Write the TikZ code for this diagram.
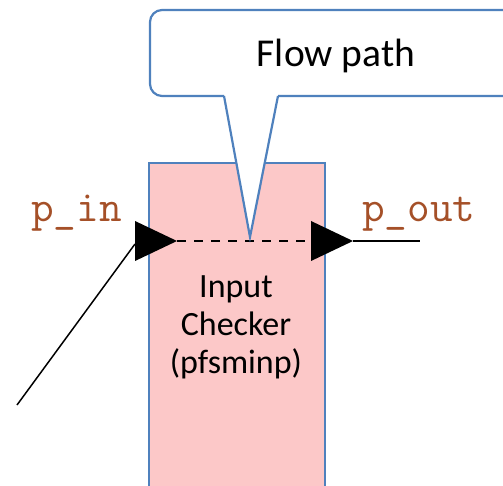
\documentclass[tikz,border=0pt]{standalone}
\usepackage{fontspec}
\setmainfont{Carlito}
\definecolor{boxfill}{RGB}{252,200,200}
\definecolor{boxline}{RGB}{79,129,189}
\definecolor{portcol}{RGB}{165,80,40}
\begin{document}
\begin{tikzpicture}[x=1pt,y=-1pt,
  blockbox/.style={draw=boxline, line width=2.2pt, fill=boxfill, rectangle, inner sep=0pt},
  portlabel/.style={text=portcol, font=\ttfamily\fontsize{44}{44}\selectfont, inner sep=0pt, anchor=base west},
  wire/.style={line width=1.5pt, black},
  headfill/.style={fill=black}]
\useasboundingbox (0,0) rectangle (503,486);
\clip (0,0) rectangle (503,486);
% block
\node[blockbox, minimum width=176pt, minimum height=340pt, anchor=north west] (box) at (148,162) {};
\node[align=center, font=\fontsize{34}{38}\selectfont, inner sep=0pt, anchor=base] (boxtext) at (236,373) {Input\\Checker\\(pfsminp)};
% ports
\node[portlabel] (pin) at (31,222) {p\_in};
\node[portlabel] (pout) at (362,222) {p\_out};
\coordinate (src) at (17,405);
\coordinate (inbase) at (135,241);
\coordinate (intip) at (177,241);
\coordinate (outbase) at (311,241);
\coordinate (outtip) at (353,241);
\coordinate (sink) at (420,241);
\draw[wire] (src) -- ([yshift=-3pt]inbase);
\draw[wire, line width=2pt, dash pattern=on 9pt off 8pt] (intip) -- (outbase);
\draw[wire] (outtip) -- (sink);
\fill[headfill] ([yshift=20pt]inbase) -- (intip) -- ([yshift=-20pt]inbase) -- cycle;
\fill[headfill] ([yshift=20pt]outbase) -- (outtip) -- ([yshift=-20pt]outbase) -- cycle;
% callout
\coordinate (pl) at (224,96);
\coordinate (pr) at (278,96);
\coordinate (ptip) at (250,237);
\fill[white, rounded corners=12pt] (150,10) rectangle (530,96);
\fill[white] (224,95) -- (ptip) -- (278,95) -- cycle;
\draw[boxline, line width=2.2pt, rounded corners=12pt] (pl) -- (150,96) -- (150,10) -- (530,10) -- (530,96) -- (pr);
\draw[boxline, line width=2.2pt] (pr) -- (ptip) -- (pl);
\node[font=\fontsize{39.5}{40}\selectfont, inner sep=0pt, anchor=base] (flow) at (336,67) {Flow path};
\end{tikzpicture}
\end{document}
